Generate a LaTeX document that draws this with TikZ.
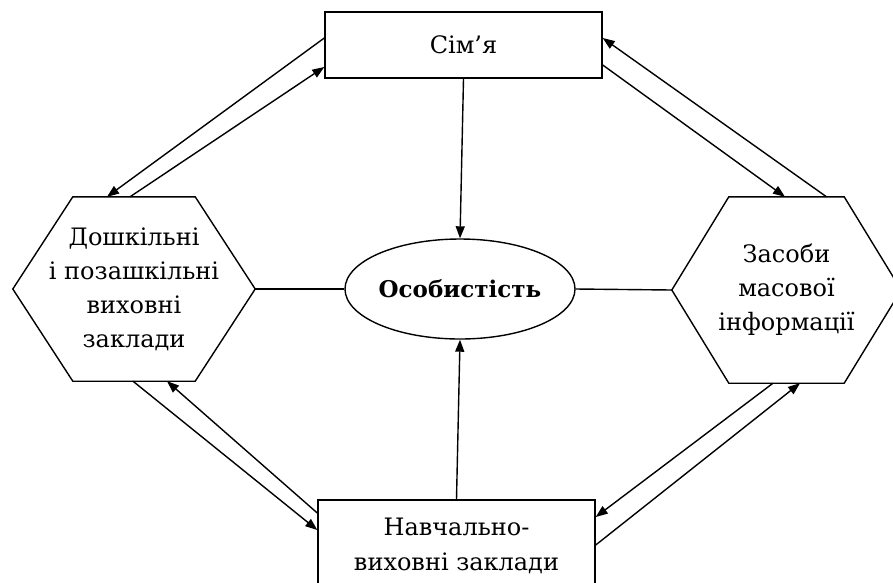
\documentclass[tikz,border=0pt]{standalone}
\usepackage{fontspec}
\setmainfont{DejaVu Serif}
\usetikzlibrary{arrows.meta,shapes.geometric}
\begin{document}
\begin{tikzpicture}[x=1pt,y=-1pt,
box/.style={draw,line width=1.4pt,align=center,inner sep=0pt,font=\fontsize{24}{35}\selectfont},
hex/.style={align=center,inner sep=0pt,font=\fontsize{24}{34}\selectfont},
arr/.style={-{Triangle[length=12pt,width=9pt]},line width=1.4pt},
ln/.style={line width=1.4pt}]
\useasboundingbox[fill=white] (0,0) rectangle (893,582);
\node[box,minimum width=277pt,minimum height=66pt] (family) at (463.5,45) {Сім’я};
\node[box,minimum width=277pt,minimum height=92pt] (school) at (456.5,546) {Навчально-\\виховні заклади};
\node[box,ellipse,minimum width=224pt,minimum height=100pt,font=\fontsize{23}{35}\selectfont\bfseries] (person) at (460,289) {Особистість};
\node[hex,minimum width=242pt,minimum height=184pt] (preschool) at (134,289) {Дошкільні\\і позашкільні\\виховні\\заклади};
\node[hex,minimum width=229pt,minimum height=186pt] (media) at (786.5,290) {Засоби\\масової\\інформації};
\foreach \h/\d in {preschool/60pt,media/57pt}
  \draw[ln] (\h.west) -- ([xshift=\d]\h.north west) -- ([xshift=-\d]\h.north east) -- (\h.east)
    -- ([xshift=-\d]\h.south east) -- ([xshift=\d]\h.south west) -- cycle;
\draw[arr] ([yshift=7pt]family.west) -- ([xshift=-27pt]preschool.north);
\draw[arr] ([xshift=-4pt]preschool.north) -- ([yshift=-22pt]family.west);
\draw[arr] ([yshift=-20pt]family.east) -- ([xshift=-1.5pt]media.north);
\draw[arr] ([xshift=40pt]media.north) -- ([yshift=7pt]family.east);
\draw[arr] ([xshift=-1pt]preschool.south) -- ([yshift=16pt]school.west);
\draw[arr] ([yshift=33pt]school.west) -- ([xshift=33pt]preschool.south);
\draw[arr] ([xshift=-13.5pt]media.south) -- ([yshift=29pt]school.east);
\draw[arr] ([yshift=1pt]school.east) -- ([xshift=13.5pt]media.south);
\draw[arr] (family.south) -- (person.north);
\draw[arr] (school.north) -- (person.south);
\draw[ln] (preschool.east) -- (person.west);
\draw[ln] (person.east) -- (media.west);
\end{tikzpicture}
\end{document}
